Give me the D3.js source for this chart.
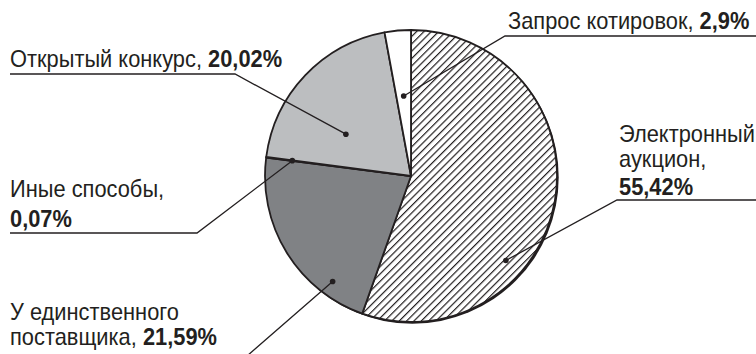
<!DOCTYPE html>
<html>
<head>
<meta charset="utf-8">
<script src="https://cdn.jsdelivr.net/npm/d3@7/dist/d3.min.js"></script>
<style>
  html, body { margin: 0; padding: 0; background: #fff; }
  svg { display: block; }
  text { font-family: 'Liberation Sans', Arial, sans-serif; fill: #231f20; }
</style>
</head>
<body>
<svg id="chart" width="756" height="354"></svg>
<script>
// Способы определения поставщика, доля, %
const categories = ["Электронный аукцион", "У единственного поставщика", "Иные способы", "Открытый конкурс", "Запрос котировок"];
const shares = [55.42, 21.59, 0.07, 20.02, 2.9];

// Slice fills, in the same order as the categories
const fills = ["url(#hatch)", "#808285", "#231f20", "#bcbec0", "#ffffff"];

// Callout layout: words per line, whether the value goes on its own line,
// anchor point inside the slice (fraction of slice angle, fraction of radius),
// elbow point, underline end and text origin.
const callouts = [
  { wrap: [1, 1], valueOwnLine: true,  at: [0.66, 0.87], elbow: [617, 200], lineEnd: 756, tx: 619, ty: 142, lh: 25.5 },
  { wrap: [2, 1], valueOwnLine: false, at: [0.22, 0.90], elbow: [247, 356], lineEnd: 10,  tx: 10,  ty: 320, lh: 25 },
  { wrap: [2],    valueOwnLine: true,  at: [0.50, 0.82], elbow: [197, 233], lineEnd: 10,  tx: 10,  ty: 197, lh: 28 },
  { wrap: [2],    valueOwnLine: false, at: [0.35, 0.53], elbow: [235, 74],  lineEnd: 10,  tx: 10,  ty: 67,  lh: 25 },
  { wrap: [2],    valueOwnLine: false, at: [0.50, 0.55], elbow: [505, 36],  lineEnd: 756, tx: 508, ty: 29,  lh: 25 }
];

const fmt = v => String(v).replace(".", ",") + "%";

const svg = d3.select("#chart");
const cx = 411, cy = 176, radius = 146;
const ink = "#231f20";
const fontSize = 23;
const narrow = 0.95;   // slight horizontal compression of the face

// Diagonal hatching
const defs = svg.append("defs");
const pat = defs.append("pattern")
  .attr("id", "hatch")
  .attr("patternUnits", "userSpaceOnUse")
  .attr("width", 5.2).attr("height", 10)
  .attr("patternTransform", "rotate(45)");
pat.append("rect").attr("width", 5.2).attr("height", 10).attr("fill", "#fff");
pat.append("line")
  .attr("x1", 0.6).attr("y1", 0).attr("x2", 0.6).attr("y2", 10)
  .attr("stroke", ink).attr("stroke-width", 1.2);

const g = svg.append("g").attr("transform", `translate(${cx},${cy})`);

const pie = d3.pie().sort(null).value(d => d).startAngle(0).endAngle(2 * Math.PI);
const arcs = pie(shares);
const arc = d3.arc().innerRadius(0).outerRadius(radius);

// slightly heavier edge on the lower right
g.append("circle")
  .attr("cx", 1.3).attr("cy", 1.3).attr("r", radius + 0.4)
  .attr("fill", ink);

g.selectAll("path.slice")
  .data(arcs)
  .join("path")
  .attr("class", "slice")
  .attr("d", arc)
  .attr("fill", (d, i) => fills[i])
  .attr("stroke", ink)
  .attr("stroke-width", 1.8)
  .attr("stroke-linejoin", "round");

// Callouts
const pointAt = (d, c) => {
  const a = d.startAngle + (d.endAngle - d.startAngle) * c.at[0];
  const r = radius * c.at[1];
  return [cx + r * Math.sin(a), cy - r * Math.cos(a)];
};

arcs.forEach((d, i) => {
  const c = callouts[i];
  const p = pointAt(d, c);

  svg.append("polyline")
    .attr("points", [p, c.elbow, [c.lineEnd, c.elbow[1]]].map(q => q.join(",")).join(" "))
    .attr("fill", "none")
    .attr("stroke", ink)
    .attr("stroke-width", 1.3);

  svg.append("circle")
    .attr("cx", p[0]).attr("cy", p[1]).attr("r", 2.8)
    .attr("fill", ink);

  // Label text: name split into lines, value in bold
  const words = (categories[i] + ",").split(" ");
  const lines = [];
  let k = 0;
  c.wrap.forEach(n => { lines.push(words.slice(k, k + n).join(" ")); k += n; });

  const t = svg.append("text")
    .attr("transform", `translate(${c.tx},${c.ty}) scale(${narrow},1)`)
    .attr("font-size", fontSize);
  lines.forEach((ln, j) => {
    const last = j === lines.length - 1;
    t.append("tspan")
      .attr("x", 0)
      .attr("dy", j === 0 ? 0 : c.lh)
      .text(ln + (last && !c.valueOwnLine ? " " : ""));
    if (last && !c.valueOwnLine) {
      t.append("tspan").attr("font-weight", "bold").text(fmt(shares[i]));
    }
  });
  if (c.valueOwnLine) {
    t.append("tspan")
      .attr("x", 0)
      .attr("dy", c.lh + 2.5)
      .attr("font-weight", "bold")
      .text(fmt(shares[i]));
  }
});
</script>
</body>
</html>
